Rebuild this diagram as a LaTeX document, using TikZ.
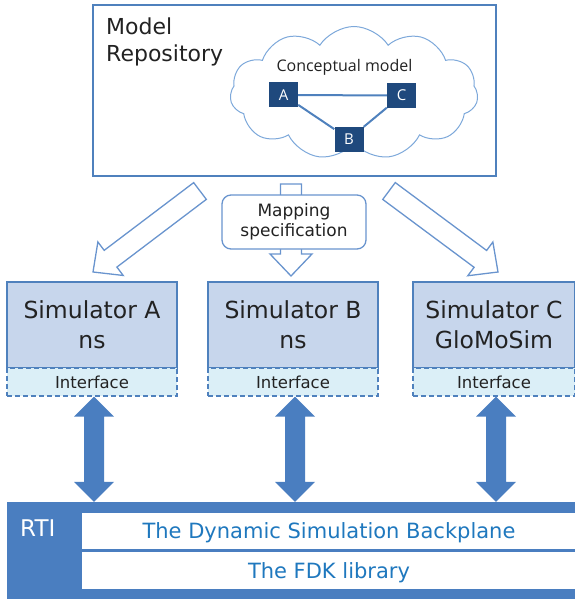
\documentclass[tikz,border=0pt]{standalone}
\usepackage{fontspec}
\setmainfont{DejaVu Sans}
\newfontfamily\cmfont{Open Sans}
\usetikzlibrary{shapes.symbols,calc}

\definecolor{boxblue}{RGB}{79,129,189}
\definecolor{cloudblue}{RGB}{125,168,218}
\definecolor{hollowblue}{RGB}{105,148,206}
\definecolor{darkbox}{RGB}{31,73,125}
\definecolor{simfill}{RGB}{199,214,236}
\definecolor{ifill}{RGB}{219,239,247}
\definecolor{solidblue}{RGB}{74,126,192}
\definecolor{bartext}{RGB}{31,120,190}
\definecolor{ink}{RGB}{34,34,34}

% fat hollow arrow from #1 (tail centre) to #2 (tip)
\newcommand\hollowarrow[2]{%
  \coordinate (hbase) at ($(#2)!22pt!(#1)$);
  \draw[hollow] ($(#1)!10.5pt!90:(#2)$) -- ($(hbase)!10.5pt!90:(#2)$)
    -- ($(hbase)!21pt!90:(#2)$) -- (#2) -- ($(hbase)!21pt!-90:(#2)$)
    -- ($(hbase)!10.5pt!-90:(#2)$) -- ($(#1)!10.5pt!-90:(#2)$) -- cycle;}

% solid two-headed arrow between #1 and #2
\newcommand\dblarrow[2]{%
  \coordinate (hone) at ($(#1)!20pt!(#2)$);
  \coordinate (htwo) at ($(#2)!20pt!(#1)$);
  \fill[solidblue] (#1) -- ($(hone)!20pt!90:(#2)$) -- ($(hone)!10pt!90:(#2)$)
    -- ($(htwo)!10pt!-90:(#1)$) -- ($(htwo)!20pt!-90:(#1)$) -- (#2)
    -- ($(htwo)!20pt!90:(#1)$) -- ($(htwo)!10pt!90:(#1)$)
    -- ($(hone)!10pt!-90:(#2)$) -- ($(hone)!20pt!-90:(#2)$) -- cycle;}

\begin{document}
\begin{tikzpicture}[x=1pt,y=-1pt,
  repo/.style={draw=boxblue, line width=1.8pt, minimum width=403pt,
    minimum height=171pt, inner sep=0pt},
  bigtext/.style={font=\fontsize{22}{27}\selectfont, text=ink, inner sep=0pt},
  cmbox/.style={fill=darkbox, text=white, minimum width=29pt, minimum height=25pt,
    inner sep=0pt, text height=10.7pt, text depth=0pt,
    font=\cmfont\fontsize{15}{15}\selectfont},
  link/.style={draw=boxblue, line width=2pt},
  hollow/.style={draw=hollowblue, fill=white, line width=1.3pt, line join=miter},
  mapbox/.style={draw=hollowblue, fill=white, line width=1.3pt, rounded corners=9pt,
    minimum width=144pt, minimum height=54pt, align=center, text=ink,
    font=\fontsize{17}{20}\selectfont},
  sim/.style={draw=boxblue, fill=simfill, line width=1.6pt, minimum height=86pt,
    inner sep=0pt, align=center, text=ink, font=\fontsize{23.5}{30}\selectfont},
  iface/.style={draw=boxblue, fill=ifill, dash pattern=on 5pt off 3pt,
    line width=1.4pt, minimum height=28pt, inner sep=0pt, text=ink,
    text height=12pt, text depth=0pt, font=\fontsize{16.5}{18}\selectfont},
  bar/.style={fill=white, inner sep=0pt, minimum width=494pt, text=bartext,
    text height=15.3pt, text depth=0pt, font=\fontsize{21}{24}\selectfont}]

\useasboundingbox (0,0) rectangle (574,599);

% model repository with the conceptual model cloud
\node[repo] (repo) at (294.5,90.5) {};
\node[bigtext, anchor=base west] (rl1) at (106,35) {Model};
\node[bigtext, anchor=base west] (rl2) at (106,62) {Repository};

\node[cloud, cloud puffs=11, cloud puff arc=115, aspect=1.9, draw=cloudblue,
  line width=1pt, minimum width=248pt, minimum height=133pt, inner sep=0pt]
  (cloud) at (354,93) {};
\node[font=\cmfont\fontsize{16}{16}\selectfont, text=ink, inner sep=0pt,
  text height=11.4pt, text depth=0pt] (concept) at (344.5,66) {Conceptual model};

\node[cmbox] (ca) at (283.5,95) {A};
\node[cmbox] (cc) at (401.5,95.5) {C};
\node[cmbox] (cb) at (349,139) {B};
\draw[link] (ca) -- (cc);
\draw[link] (ca) -- (cb);
\draw[link] (cb) -- (cc);

% mapping arrows
\coordinate (tA) at (200,191);
\coordinate (pA) at (93,272);
\coordinate (tB) at (291,184);
\coordinate (pB) at (291,276);
\coordinate (tC) at (389,191);
\coordinate (pC) at (498,272);
\hollowarrow{tA}{pA}
\hollowarrow{tC}{pC}
\hollowarrow{tB}{pB}
\node[mapbox] (map) at (294,222) {Mapping\\specification};

% simulators
\node[sim, minimum width=170pt] (simA) at (92,325) {Simulator A\\ns};
\node[sim, minimum width=170pt] (simB) at (293,325) {Simulator B\\ns};
\node[sim, minimum width=162pt] (simC) at (494,325) {Simulator C\\GloMoSim};
\node[iface, minimum width=170pt] (iA) at (92,382) {Interface};
\node[iface, minimum width=170pt] (iB) at (293,382) {Interface};
\node[iface, minimum width=162pt] (iC) at (494,382) {Interface};

% run-time infrastructure
\node[fill=solidblue, minimum width=569pt, minimum height=99pt, inner sep=0pt]
  (rti) at (291.5,551.5) {};
\node[font=\fontsize{23}{23}\selectfont, text=white, anchor=base west, inner sep=0pt]
  (rtil) at (20,536) {RTI};
\node[bar, minimum height=36pt] (dsb) at (329,531) {The Dynamic Simulation Backplane};
\node[bar, minimum height=37pt] (fdk) at (329,570.5) {The FDK library};

% links between interfaces and the RTI
\coordinate (dA) at ([xshift=2pt]iA.south |- rti.north);
\coordinate (dB) at ([xshift=2pt]iB.south |- rti.north);
\coordinate (dC) at ([xshift=2pt]iC.south |- rti.north);
\dblarrow{[xshift=2pt]iA.south}{dA}
\dblarrow{[xshift=2pt]iB.south}{dB}
\dblarrow{[xshift=2pt]iC.south}{dC}
\end{tikzpicture}
\end{document}
